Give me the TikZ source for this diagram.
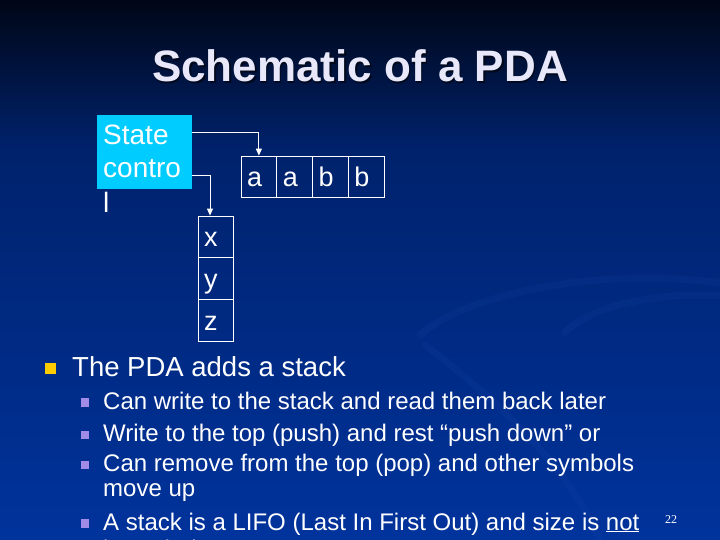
\documentclass[tikz,border=0pt]{standalone}
\usepackage{fontspec}
\setmainfont{Liberation Sans}
\newfontfamily\numfont{Liberation Serif}
\usepackage{xcolor}
\usetikzlibrary{arrows.meta}

\definecolor{bgtop}{RGB}{0,6,22}
\definecolor{bgmid}{RGB}{0,34,108}
\definecolor{bgbot}{RGB}{0,51,156}
\definecolor{swooshblue}{RGB}{40,80,180}
\definecolor{ctrlcyan}{RGB}{0,204,255}
\definecolor{titlecol}{RGB}{232,232,250}
\definecolor{bulyellow}{RGB}{255,204,0}
\definecolor{bullilac}{RGB}{160,140,230}

\begin{document}
\begin{tikzpicture}[x=1pt, y=-1pt,
  cell/.style={draw=white, line width=0.8pt, text=white, font=\fontsize{27}{29}\selectfont,
    text width=23.75pt, inner xsep=6pt, inner ysep=0pt, text height=20pt, text depth=0pt,
    minimum height=41pt, align=left},
  arr/.style={draw=white, line width=0.9pt, -{Triangle[length=7pt, width=6pt]}},
  bodytxt/.style={text=white, inner sep=0pt, anchor=base west},
  swoosh/.style={draw=swooshblue, line width=7pt, opacity=0.12, line cap=round}]
  \useasboundingbox (0,0) rectangle (720,540);
  \clip (0,0) rectangle (720,540);
  % background
  \shade[top color=bgtop, bottom color=bgmid] (0,0) rectangle (720,150);
  \shade[top color=bgmid, bottom color=bgbot] (0,150) rectangle (720,540);
  \draw[swoosh] (420,335) .. controls (470,290) and (620,265) .. (730,285);
  \draw[swoosh] (565,332) .. controls (600,300) and (670,292) .. (730,296);
  \draw[swoosh] (600,540) .. controls (560,450) and (470,380) .. (425,345);
  % title
  \node[anchor=base, text=black, opacity=0.55, font=\fontsize{44}{48}\selectfont\bfseries] (titleshadow) at (361.5,83.5) {Schematic of a PDA};
  \node[anchor=base, text=titlecol, font=\fontsize{44}{48}\selectfont\bfseries] (title) at (360,82) {Schematic of a PDA};
  % state control
  \node[fill=ctrlcyan, minimum width=95pt, minimum height=74pt, inner sep=0pt] (ctrl) at (144.5,152) {};
  \foreach \y/\txt in {145/State, 177.5/contro, 212/l}
    \node[bodytxt, font=\fontsize{28}{30}\selectfont] at (103,\y) {\txt};
  % input tape
  \foreach \ch [count=\i] in {a,a,b,b}
    \node[cell] (t\i) at ({241+35.75*(\i-0.5)},176.5) {\ch};
  % stack
  \foreach \ch [count=\i] in {x,y,z}
    \node[cell, minimum height=41.7pt] (s\i) at (216,{216+41.7*(\i-0.5)}) {\ch};
  % connectors
  \draw[arr] ([yshift=20pt]ctrl.east) -| (t1.north);
  \draw[arr] ([yshift=-23pt]ctrl.east) -| ([xshift=-6pt]s1.north);
  % bullets
  \node[fill=bulyellow, minimum size=11pt, inner sep=0pt] (bul0) at (50.5,368.5) {};
  \node[bodytxt, font=\fontsize{27.5}{30}\selectfont] (main) at (72,376) {The PDA adds a stack};
  \foreach \y [count=\i] in {409,441.7,471.7,530}
    \node[fill=bullilac, minimum size=8.5pt, inner sep=0pt] (bul\i) at (85,\y-6.5) {};
  \foreach \y/\txt in {409/{Can write to the stack and read them back later},
                       441.7/{Write to the top (push) and rest “push down” or},
                       471.7/{Can remove from the top (pop) and other symbols},
                       496.7/{move up},
                       530/{A stack is a LIFO (Last In First Out) and size is \underline{not}},
                       557/{bounded}}
    \node[bodytxt, font=\fontsize{24}{26}\selectfont] at (103,\y) {\txt};
  % page number
  \node[anchor=base west, text=white, inner sep=0pt, font=\numfont\fontsize{12}{14}\selectfont] (pnum) at (665,523) {22};
\end{tikzpicture}
\end{document}
